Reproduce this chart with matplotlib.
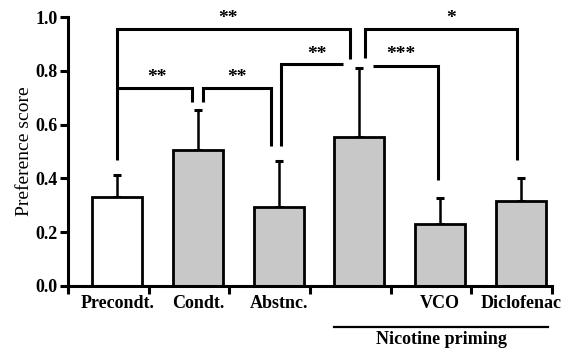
import numpy as np
import matplotlib
matplotlib.use("Agg")
import matplotlib.pyplot as plt

# dados
grupos = ["Precondt.", "Condt.", "Abstnc.", "", "VCO", "Diclofenac"]
medias = [0.331, 0.506, 0.294, 0.555, 0.230, 0.316]
erros = [0.082, 0.147, 0.171, 0.254, 0.097, 0.084]
cores_barras = ["white", "#c8c8c8", "#c8c8c8", "#c8c8c8", "#c8c8c8", "#c8c8c8"]

# colchetes de significância: lista de pontos (x, y) + texto
colchetes = [
    [(0.0, 0.468), (0.0, 0.955), (2.88, 0.955), (2.88, 0.844)],
    [(0.0, 0.736), (0.92, 0.736), (0.92, 0.684)],
    [(1.06, 0.684), (1.06, 0.736), (1.90, 0.736), (1.90, 0.52)],
    [(2.03, 0.52), (2.03, 0.825), (2.79, 0.825)],
    [(3.17, 0.818), (3.97, 0.818), (3.97, 0.394)],
    [(3.07, 0.848), (3.07, 0.955), (4.95, 0.955), (4.95, 0.468)],
]
estrelas = ["**", "**", "**", "**", "***", "*"]
estrelas_x = [1.37, 0.49, 1.48, 2.47, 3.51, 4.14]
estrelas_y = [0.995, 0.775, 0.775, 0.862, 0.862, 0.993]

plt.rcParams["font.family"] = ["Liberation Serif", "DejaVu Serif"]

fig = plt.figure(figsize=(5.63, 3.49), dpi=100)
ax = fig.add_axes([68 / 563, 63 / 349, (552 - 68) / 563, (286 - 17) / 349])

x = np.arange(len(grupos))
ax.bar(x, medias, width=0.62, color=cores_barras, edgecolor="black",
       linewidth=2.0, zorder=2)
ax.errorbar(x, medias, yerr=[np.zeros(len(erros)), erros], fmt="none",
            ecolor="black", elinewidth=1.8, capsize=3, capthick=2.2, zorder=1)

for pts in colchetes:
    xs, ys = zip(*pts)
    ax.plot(xs, ys, color="black", lw=2.2, solid_capstyle="butt",
            solid_joinstyle="miter", clip_on=False, zorder=3)

for s, sx, sy in zip(estrelas, estrelas_x, estrelas_y):
    ax.text(sx, sy, s, ha="center", va="center", fontsize=14,
            fontweight="bold", clip_on=False)

# linha "Nicotine priming"
ax.plot([2.69, 5.34], [-0.152, -0.152], color="black", lw=1.6, clip_on=False)
ax.text(4.02, -0.198, "Nicotine priming", ha="center", va="center",
        fontsize=13, fontweight="bold")

ax.set_xlim(-0.613, 5.387)
ax.set_ylim(0, 1.0)
ax.set_yticks(np.arange(0, 1.01, 0.2))
ax.set_yticklabels([f"{v:.1f}" for v in np.arange(0, 1.01, 0.2)],
                   fontsize=13, fontweight="bold")
ax.set_xticks(x)
ax.set_xticklabels(grupos, fontsize=13, fontweight="bold")
ax.set_xticks(np.arange(-0.613, 5.4, 1.0), minor=True)
ax.tick_params(axis="x", which="major", length=0, pad=6.5)
ax.tick_params(axis="x", which="minor", length=5.5, width=2.2)
ax.tick_params(axis="y", length=5.5, width=2.2, pad=2)
ax.set_ylabel("Preference score", fontsize=14, labelpad=2)

for lado in ["top", "right"]:
    ax.spines[lado].set_visible(False)
for lado in ["left", "bottom"]:
    ax.spines[lado].set_linewidth(2.2)

plt.savefig("out.png", dpi=100)
plt.close()
